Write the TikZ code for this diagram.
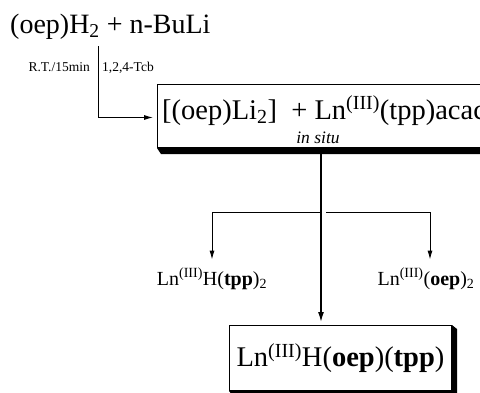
\documentclass[tikz,border=0pt]{standalone}
\usepackage{fontspec}
\setmainfont{Liberation Serif}
\usetikzlibrary{arrows.meta,calc}
\begin{document}
\begin{tikzpicture}[x=1pt,y=-1pt,
  arr/.style={-{Latex[length=9pt,width=5pt]}, line width=0.9pt},
  mainarr/.style={-{Latex[length=10pt,width=6pt]}, line width=1.4pt},
  boxst/.style={draw, line width=1pt, fill=white, inner sep=0pt},
  big/.style={font=\fontsize{28.5}{31}\selectfont},
  mid/.style={font=\fontsize{20}{23}\selectfont},
  small/.style={font=\fontsize{13.5}{15}\selectfont},
  shadowfill/.style={fill=black}]
\useasboundingbox (0,0) rectangle (480,392);
% title
\node[anchor=base west, inner sep=0pt, font=\fontsize{28}{31}\selectfont] (t) at (10,33) {(oep)H\textsubscript{2} + n-BuLi};
\coordinate (c1) at (98,46);
% conditions
\node[anchor=base east, inner sep=0pt, small] (rt1) at (90,71) {R.T./15min};
\node[anchor=base west, inner sep=0pt, small] (rt2) at (102,71) {1,2,4-Tcb};
% top box
\node[boxst, minimum width=343pt, minimum height=63pt, anchor=north west] (box) at (157,84) {};
\fill[shadowfill] (box.south west) -- ++(4,6) -- ($(box.south east)+(6,6)$) -- ($(box.north east)+(6,4)$) -- (box.north east) -- (box.south east) -- cycle;
\node[anchor=base west, inner sep=0pt, big] (tx) at (162,119) {[(oep)Li\textsubscript{2}]\ \ + Ln\textsuperscript{(III)}(tpp)acac};
\node[anchor=base, inner sep=0pt, font=\fontsize{17.5}{19}\selectfont\itshape] (is) at (318,143) {in situ};
\draw[arr, shorten >=4pt] (c1) |- ([yshift=-1.5pt]box.west);
% bottom box
\node[boxst, minimum width=222pt, minimum height=65pt, anchor=north west, big] (bot) at (229,325) {Ln\textsuperscript{(III)}H(\textbf{oep})(\textbf{tpp})};
\fill[shadowfill] (bot.south west) -- ++(5,6) -- ($(bot.south east)+(5,6)$) -- ($(bot.north east)+(5,4)$) -- (bot.north east) -- (bot.south east) -- cycle;
% side products
\node[anchor=base, inner sep=0pt, mid] (lp) at (212,285) {Ln\textsuperscript{(III)}H(\textbf{tpp})\textsubscript{2}};
\node[anchor=base, inner sep=0pt, mid] (rp) at (426,285) {Ln\textsuperscript{(III)}(\textbf{oep})\textsubscript{2}};
% connectors
\coordinate (v) at (321,153);
\draw[mainarr, shorten >=3pt] (v) -- (v |- bot.north);
\coordinate (bl) at (320.5,212);
\coordinate (br) at (326,212);
\draw[arr] (bl) -| ([yshift=8pt]lp.north);
\draw[arr] (br) -| ([xshift=4pt,yshift=8pt]rp.north);
\end{tikzpicture}
\end{document}
